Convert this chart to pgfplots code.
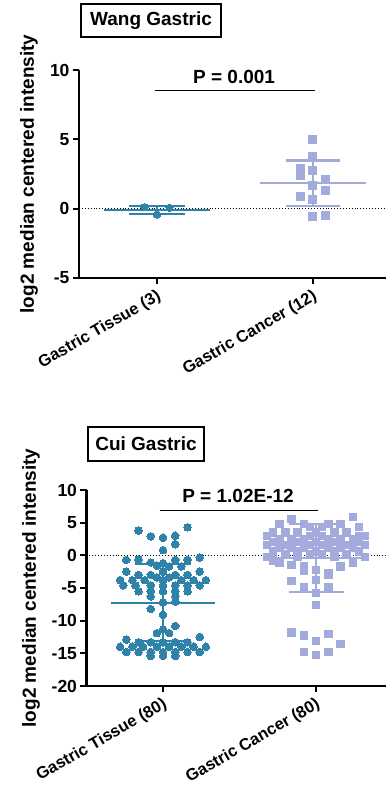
\documentclass[border=0pt]{standalone}
\usepackage{fontspec}
\setmainfont{Liberation Sans}
\usepackage{pgfplots}
\pgfplotsset{compat=1.18}
\definecolor{tis}{RGB}{47,130,168}
\definecolor{can}{RGB}{163,171,221}
\newcommand\tickfont{\fontsize{17.5}{20}\selectfont\bfseries}
\newcommand\xtickfont{\fontsize{16.5}{19}\selectfont\bfseries}
\newcommand\bigfont{\fontsize{19}{22}\selectfont\bfseries}
\pgfplotsset{
  gp/.style={
    scale only axis, anchor=south west,
    axis lines=left, axis line style={-, line width=2.2pt, black},
    xmin=0, xtick={0.5,1.5}, tick align=outside, major tick length=6pt,
    every tick/.style={black, line width=2pt},
    yticklabel style={font=\tickfont},
    /pgf/number format/assume math mode=true,
    xticklabel style={rotate=30, anchor=north east, font=\xtickfont},
    ylabel={log2 median centered intensity},
    every axis y label/.style={rotate=90, anchor=center, font=\bigfont},
    clip=false,
  },
  tisdot/.style={only marks, mark=*, mark size=3.8pt, mark options={fill=tis, draw=tis, line width=0pt}},
  cansq/.style={only marks, mark=square*, mark size=3.7pt, mark options={fill=can, draw=can, line width=0pt}},
}
\begin{document}
\begin{tikzpicture}
\useasboundingbox (0pt,0pt) rectangle (386pt,787pt);
% ---------------- Wang Gastric ----------------
\begin{axis}[gp, at={(79pt,509pt)}, width=307pt, height=208pt, xmax=1.968,
  ymin=-5, ymax=10, ytick={-5,0,5,10},
  xticklabels={Gastric Tissue (3), Gastric Cancer (12)},
  every axis y label/.append style={at={(rel axis cs:-0.163,0.5)}}]
\addplot[black, dotted, line width=0.9pt] coordinates {(0,0) (1.968,0)};
\addplot[tisdot, mark size=3.6pt] coordinates {(0.42,0.12) (0.50,-0.43) (0.58,0.07)};
\addplot[cansq, mark size=4pt] coordinates {
 (1.50,5.0) (1.50,3.75) (1.42,2.9) (1.42,2.4) (1.50,2.75) (1.50,1.7)
 (1.58,2.1) (1.58,1.3) (1.42,0.9) (1.50,0.65) (1.50,-0.55) (1.58,-0.5)};
% mean and SD
\addplot[tis, line width=2.2pt] coordinates {(0.16,-0.09) (0.84,-0.09)};
\addplot[tis, line width=2.2pt] coordinates {(0.32,0.2) (0.68,0.2)};
\addplot[tis, line width=2.2pt] coordinates {(0.32,-0.38) (0.68,-0.38)};
\addplot[tis, line width=2.2pt] coordinates {(0.5,-0.38) (0.5,0.2)};
\addplot[can, line width=2.2pt] coordinates {(1.16,1.87) (1.84,1.87)};
\addplot[can, line width=2.2pt] coordinates {(1.33,3.48) (1.67,3.48)};
\addplot[can, line width=2.2pt] coordinates {(1.33,0.22) (1.67,0.22)};
\addplot[can, line width=2.2pt] coordinates {(1.5,0.22) (1.5,3.48)};
% significance
\addplot[black, line width=1.4pt] coordinates {(0.487,8.5) (1.513,8.5)};
\node[anchor=base, inner sep=0pt, font=\bigfont, yshift=7pt] at (axis cs:0.994,8.5) {P = 0.001};
\end{axis}
\node[draw, line width=2.2pt, minimum width=140pt, minimum height=33pt, inner sep=0pt, font=\bigfont] at (151pt,766.5pt) {Wang Gastric};
% ---------------- Cui Gastric ----------------
\begin{axis}[gp, at={(86.5pt,101pt)}, width=299.5pt, height=196pt, xmax=1.957,
  ymin=-20, ymax=10, ytick={-20,-15,-10,-5,0,5,10},
  xticklabels={Gastric Tissue (80), Gastric Cancer (80)},
  every axis y label/.append style={at={(rel axis cs:-0.185,0.5)}}]
\addplot[black, dotted, line width=0.9pt] coordinates {(0,0) (1.957,0)};
\addplot[tisdot] coordinates {
 (0.66,4.3) (0.34,3.8) (0.58,3.0) (0.42,2.9) (0.50,2.7) (0.58,1.7) (0.50,0.8)
 (0.74,-0.35) (0.26,-0.7) (0.34,-0.65) (0.58,-0.7) (0.66,-0.7) (0.42,-1.1) (0.50,-1.2) (0.46,-1.6) (0.54,-1.7) (0.62,-1.7)
 (0.26,-2.5) (0.50,-2.5) (0.74,-2.5)
 (0.34,-3.0) (0.42,-3.0) (0.58,-3.0) (0.66,-3.0)
 (0.46,-3.4) (0.54,-3.4)
 (0.22,-3.8) (0.30,-3.8) (0.38,-3.8) (0.50,-3.8) (0.62,-3.8) (0.70,-3.8) (0.78,-3.8)
 (0.24,-4.6) (0.32,-4.6) (0.42,-4.6) (0.50,-4.6) (0.58,-4.6) (0.66,-4.6) (0.74,-4.6)
 (0.34,-5.5) (0.42,-5.5) (0.50,-5.5) (0.58,-5.5) (0.66,-5.5)
 (0.42,-6.3) (0.58,-6.3)
 (0.50,-7.2) (0.58,-7.1) (0.42,-8.2) (0.50,-9.1) (0.58,-10.8) (0.50,-11.3)
 (0.46,-11.9) (0.54,-11.9) (0.74,-12.5) (0.26,-12.9)
 (0.34,-13.3) (0.42,-13.3) (0.50,-13.3) (0.58,-13.3) (0.66,-13.3)
 (0.22,-14.0) (0.30,-14.0) (0.37,-14.0) (0.46,-14.0) (0.54,-14.0) (0.62,-14.0) (0.70,-14.0) (0.78,-14.0)
 (0.26,-14.8) (0.34,-14.8) (0.42,-14.8) (0.50,-14.8) (0.58,-14.8) (0.66,-14.8) (0.74,-14.8)
 (0.42,-15.4) (0.50,-15.4) (0.58,-15.4)};
\addplot[cansq] coordinates {
 (1.34,5.6) (1.74,5.9)
 (1.26,4.8) (1.42,4.8) (1.58,4.8) (1.66,4.8)
 (1.46,4.3) (1.54,4.3) (1.78,4.3)
 (1.22,3.5) (1.30,3.5) (1.38,3.5) (1.50,3.5) (1.62,3.5) (1.70,3.5)
 (1.18,3.0) (1.46,3.0) (1.54,3.0) (1.78,3.0) (1.82,3.0)
 (1.26,2.4) (1.34,2.4) (1.42,2.4) (1.58,2.4) (1.66,2.4) (1.74,2.4)
 (1.22,2.0) (1.38,2.0) (1.50,2.0) (1.62,2.0) (1.78,2.0)
 (1.18,1.6) (1.30,1.6) (1.46,1.6) (1.54,1.6) (1.70,1.6) (1.82,1.6)
 (1.26,1.1) (1.34,1.1) (1.42,1.1) (1.58,1.1) (1.66,1.1) (1.74,1.1)
 (1.22,0.6) (1.38,0.6) (1.50,0.6) (1.62,0.6) (1.78,0.6)
 (1.30,0.2) (1.46,0.2) (1.54,0.2) (1.70,0.2)
 (1.18,-0.3) (1.38,-0.3) (1.62,-0.3) (1.82,-0.3)
 (1.22,-0.8)
 (1.26,-1.2) (1.34,-1.5) (1.42,-1.6) (1.66,-1.7) (1.74,-1.2)
 (1.42,-2.4) (1.50,-2.2) (1.58,-2.8)
 (1.34,-3.9) (1.50,-3.8) (1.58,-3.0)
 (1.42,-4.9) (1.58,-4.9) (1.50,-5.8) (1.50,-7.6)
 (1.34,-11.8) (1.42,-12.3) (1.58,-12.0) (1.50,-13.1) (1.66,-13.6)
 (1.42,-14.8) (1.50,-15.3) (1.58,-14.8)};
% mean and SD
\addplot[tis, line width=2pt] coordinates {(0.16,-7.25) (0.84,-7.25)};
\addplot[tis, line width=2pt] coordinates {(0.32,-1.4) (0.68,-1.4)};
\addplot[tis, line width=2pt] coordinates {(0.32,-13.1) (0.68,-13.1)};
\addplot[tis, line width=2.4pt] coordinates {(0.5,-13.1) (0.5,-1.4)};
\addplot[can, line width=2pt] coordinates {(1.16,-0.45) (1.84,-0.45)};
\addplot[can, line width=2pt] coordinates {(1.32,4.8) (1.68,4.8)};
\addplot[can, line width=2pt] coordinates {(1.32,-5.65) (1.68,-5.65)};
\addplot[can, line width=2.4pt] coordinates {(1.5,-5.65) (1.5,4.8)};
% significance
\addplot[black, line width=1.4pt] coordinates {(0.48,6.9) (1.513,6.9)};
\node[anchor=base, inner sep=0pt, font=\bigfont, yshift=8pt] at (axis cs:0.99,6.9) {P = 1.02E-12};
\end{axis}
\node[draw, line width=2.2pt, minimum width=116pt, minimum height=34pt, inner sep=0pt, font=\bigfont] at (146pt,343pt) {Cui Gastric};
\end{tikzpicture}
\end{document}
